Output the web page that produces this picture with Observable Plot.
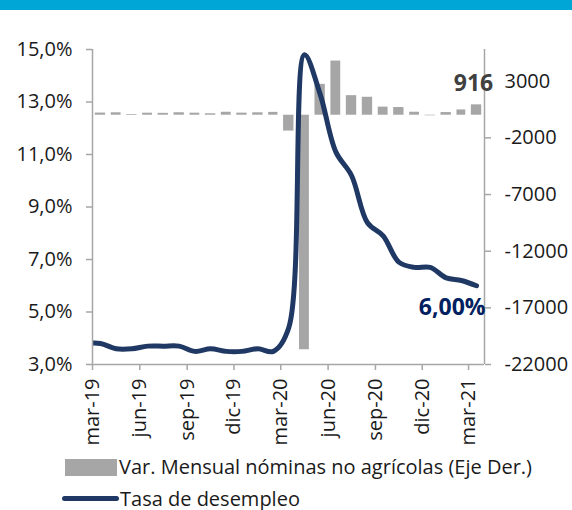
<!DOCTYPE html>
<html>
<head>
<meta charset="utf-8">
<script src="https://cdn.jsdelivr.net/npm/d3@7"></script>
<script src="https://cdn.jsdelivr.net/npm/@observablehq/plot@0.6"></script>
<style>
  html, body { margin: 0; padding: 0; background: #fff; }
  body { width: 572px; height: 510px; position: relative; overflow: hidden; font-family: "Open Sans", sans-serif; }
  #band { height: 10px; background: #00A6D6; }
  #chart svg { display: block; }
  .leg { position: absolute; display: flex; align-items: center; font-size: 20px; line-height: 1; color: #1a1a1a; white-space: nowrap; }
  .leg span { line-height: 1; }
  .sw-bar { display: inline-block; width: 52px; height: 17px; background: #A6A6A6; margin-right: 2px; }
  .sw-line { display: inline-block; width: 57px; height: 5px; border-radius: 3px; background: #1F3864; margin-right: 1px; }
</style>
</head>
<body>
<div id="band"></div>
<div id="chart"></div>
<div class="leg" id="leg1" style="left:65px; top:456px; height:22px;"><span class="sw-bar"></span><span>Var. Mensual nóminas no agrícolas (Eje Der.)</span></div>
<div class="leg" id="leg2" style="left:62px; top:488px; height:21px;"><span class="sw-line"></span><span>Tasa de desempleo</span></div>
<script>
// ---- data ----
const barMonths = ["2019-03","2019-04","2019-05","2019-06","2019-07","2019-08","2019-09","2019-10","2019-11","2019-12",
  "2020-01","2020-02","2020-03","2020-04","2020-05","2020-06","2020-07","2020-08","2020-09","2020-10","2020-11","2020-12",
  "2021-01","2021-02","2021-03"];
// monthly change in non-farm payrolls (thousands), right axis
const payrolls = [189, 216, 62, 178, 166, 219, 180, 128, 261, 184,
  214, 251, -1400, -20700, 2725, 4781, 1726, 1583, 716, 680, 264, -50,
  233, 468, 916];
const rateMonths = ["2019-02","2019-03","2019-04","2019-05","2019-06","2019-07","2019-08","2019-09","2019-10","2019-11","2019-12",
  "2020-01","2020-02","2020-03","2020-04","2020-05","2020-06","2020-07","2020-08","2020-09","2020-10","2020-11","2020-12",
  "2021-01","2021-02","2021-03"];
// unemployment rate (%), left axis
const rates = [3.8, 3.8, 3.6, 3.6, 3.7, 3.7, 3.7, 3.5, 3.6, 3.5, 3.5,
  3.6, 3.5, 4.4, 14.8, 13.3, 11.1, 10.2, 8.4, 7.9, 6.9, 6.7, 6.7,
  6.3, 6.2, 6.0];
const xTickMonths = ["2019-03","2019-06","2019-09","2019-12","2020-03","2020-06","2020-09","2020-12","2021-03"];
const xTickLabels = ["mar-19","jun-19","sep-19","dic-19","mar-20","jun-20","sep-20","dic-20","mar-21"];
const leftTicks = [3, 5, 7, 9, 11, 13, 15];
const rightTicks = [-22000, -17000, -12000, -7000, -2000, 3000];
const leftDomain = [3, 15];
const rightDomain = [-22000, 5800];

// ---- helpers ----
const parse = d3.utcParse("%Y-%m");
const toLeft = v => leftDomain[0] + (v - rightDomain[0]) * (leftDomain[1] - leftDomain[0]) / (rightDomain[1] - rightDomain[0]);
const fromLeft = y => rightDomain[0] + (y - leftDomain[0]) * (rightDomain[1] - rightDomain[0]) / (leftDomain[1] - leftDomain[0]);

const bars = barMonths.map((m, i) => {
  const s = parse(m), e = d3.utcMonth.offset(s, 1);
  return {start: s, end: e, mid: new Date((+s + +e) / 2), v: payrolls[i]};
});
const line = rateMonths.map((m, i) => {
  const s = parse(m), e = d3.utcMonth.offset(s, 1);
  return {date: new Date((+s + +e) / 2), r: rates[i]};
});
const tickDates = xTickMonths.map(parse);
const tickLabelMap = new Map(tickDates.map((d, i) => [+d, xTickLabels[i]]));
const xDomain = [bars[0].start, bars[bars.length - 1].end];

const axisGrey = "#A6A6A6";
const textCol = "#1a1a1a";

const chart = Plot.plot({
  width: 572,
  height: 442,
  marginTop: 39,
  marginBottom: 88,
  marginLeft: 92,
  marginRight: 88,
  style: {fontFamily: "Open Sans, sans-serif", fontSize: "20px", color: textCol, background: "white", overflow: "visible"},
  x: {type: "utc", domain: xDomain, label: null},
  y: {domain: leftDomain, label: null},
  marks: [
    Plot.rect(bars, {x1: "start", x2: "end", y1: () => toLeft(0), y2: d => toLeft(d.v), fill: "#A6A6A6", insetLeft: 2.8, insetRight: 2.8}),
    Plot.line(line, {x: "date", y: "r", stroke: "#1F3864", strokeWidth: 5, curve: "catmull-rom", clip: true, strokeLinecap: "round"}),
    Plot.ruleX([xDomain[0]], {stroke: axisGrey, strokeWidth: 1.5}),
    Plot.ruleX([xDomain[1]], {stroke: axisGrey, strokeWidth: 1.5}),
    Plot.ruleY([leftDomain[0]], {stroke: axisGrey, strokeWidth: 1.5}),
    Plot.axisY(leftTicks, {anchor: "left", tickSize: 6, tickPadding: 14, stroke: axisGrey, strokeWidth: 1.5, fill: textCol, label: null,
      tickFormat: d => d.toFixed(1).replace(".", ",") + "%"}),
    Plot.axisY(rightTicks.map(toLeft), {anchor: "right", tickSize: 6, tickPadding: 14, stroke: axisGrey, strokeWidth: 1.5, fill: textCol, label: null,
      tickFormat: d => String(Math.round(fromLeft(d) / 1000) * 1000)}),
    Plot.axisX(tickDates, {anchor: "bottom", tickSize: 6, tickPadding: 8, tickRotate: -90, stroke: axisGrey, strokeWidth: 1.5, fill: textCol, label: null,
      tickFormat: d => tickLabelMap.get(+d)}),
    Plot.text([bars[bars.length - 1]], {x: "mid", y: d => toLeft(d.v), text: d => String(d.v), dy: -21, dx: -3,
      fontWeight: "bold", fontSize: 23, fill: "#404040"}),
    Plot.text([line[line.length - 1]], {x: "date", y: "r", text: d => d.r.toFixed(2).replace(".", ",") + "%", dy: 22, dx: 9,
      textAnchor: "end", fontWeight: "bold", fontSize: 23, fill: "#002060"})
  ]
});
document.getElementById("chart").appendChild(chart);
</script>
</body>
</html>
